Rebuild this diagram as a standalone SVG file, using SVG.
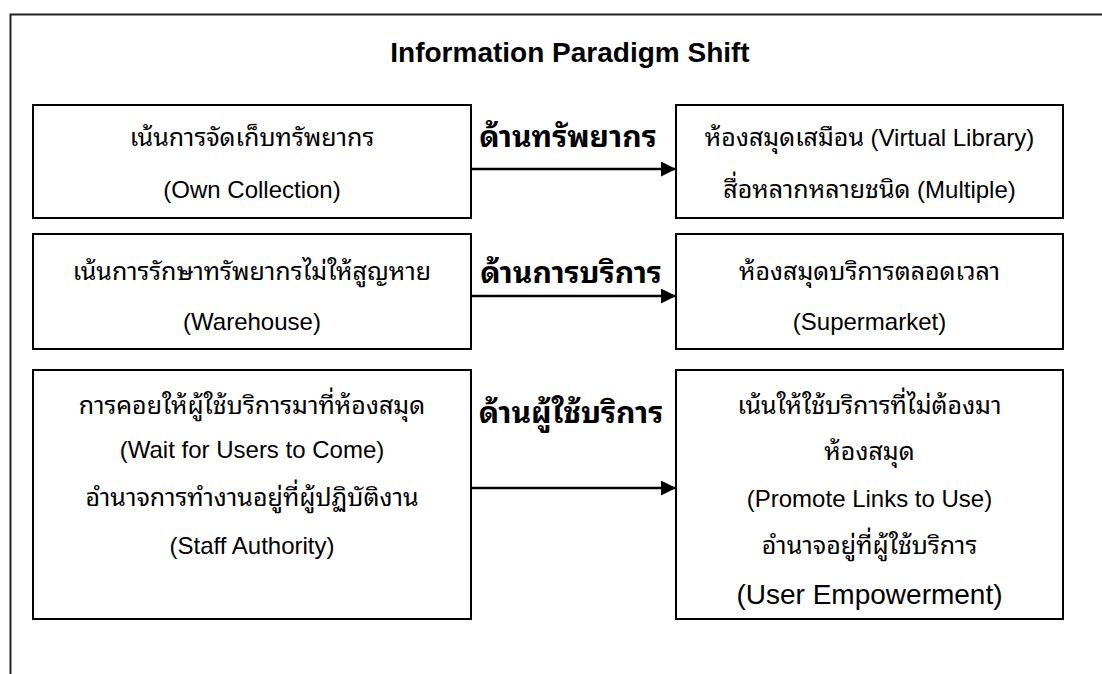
<svg xmlns="http://www.w3.org/2000/svg" width="1102" height="674" viewBox="0 0 1102 674">
<style>
.box{fill:#fff;stroke:#000;stroke-width:2}
.t{font-family:"Liberation Sans","Noto Sans Thai","Noto Sans",sans-serif;font-size:24px;fill:#000;text-anchor:middle}
.th{font-family:"Noto Sans Thai Looped","Noto Sans Thai","Liberation Sans","Noto Sans",sans-serif;font-size:25px;fill:#000;text-anchor:middle}
.en{font-family:"Liberation Sans",sans-serif;font-size:24px}
.lbl{font-family:"Noto Sans Thai Looped","Noto Sans Thai","Liberation Sans",sans-serif;font-size:30px;font-weight:bold;fill:#000;text-anchor:middle}
.title{font-family:"Liberation Sans",Arial,sans-serif;font-size:28px;font-weight:bold;fill:#000;text-anchor:middle}
.conn{stroke:#000;stroke-width:2.5;fill:none}
</style>
<defs>
<marker id="ah" viewBox="0 0 10 10" refX="10" refY="5" markerWidth="6" markerHeight="6" markerUnits="strokeWidth" orient="auto">
<path d="M0,0 L10,5 L0,10 Z" fill="#000"/>
</marker>
</defs>
<rect width="1102" height="674" fill="#fff"/>
<path d="M1102,14.5 H10.5 V674" fill="none" stroke="#222" stroke-width="2"/>
<text class="title" x="570" y="62">Information Paradigm Shift</text>

<g id="left1">
<rect class="box" x="33" y="105" width="438" height="113"/>
<text class="th" x="252" y="146">เน้นการจัดเก็บทรัพยากร</text>
<text class="t" x="252" y="198">(Own Collection)</text>
</g>
<g id="left2">
<rect class="box" x="33" y="234" width="438" height="115"/>
<text class="th" x="252" y="280">เน้นการรักษาทรัพยากรไม่ให้สูญหาย</text>
<text class="t" x="252" y="330">(Warehouse)</text>
</g>
<g id="left3">
<rect class="box" x="33" y="370" width="438" height="249"/>
<text class="th" x="252" y="414">การคอยให้ผู้ใช้บริการมาที่ห้องสมุด</text>
<text class="t" x="252" y="458">(Wait for Users to Come)</text>
<text class="th" x="252" y="506">อำนาจการทำงานอยู่ที่ผู้ปฏิบัติงาน</text>
<text class="t" x="252" y="554">(Staff Authority)</text>
</g>
<g id="right1">
<rect class="box" x="676" y="105" width="387" height="113"/>
<text class="th" x="869.5" y="146">ห้องสมุดเสมือน <tspan class="en">(Virtual Library)</tspan></text>
<text class="th" x="869.5" y="198">สื่อหลากหลายชนิด <tspan class="en">(Multiple)</tspan></text>
</g>
<g id="right2">
<rect class="box" x="676" y="234" width="387" height="115"/>
<text class="th" x="869.5" y="280">ห้องสมุดบริการตลอดเวลา</text>
<text class="t" x="869.5" y="330">(Supermarket)</text>
</g>
<g id="right3">
<rect class="box" x="676" y="370" width="387" height="249"/>
<text class="th" x="869.5" y="414">เน้นให้ใช้บริการที่ไม่ต้องมา</text>
<text class="th" x="869.5" y="460">ห้องสมุด</text>
<text class="t" x="869.5" y="507">(Promote Links to Use)</text>
<text class="th" x="869.5" y="554">อำนาจอยู่ที่ผู้ใช้บริการ</text>
<text class="t" x="869.5" y="604" style="font-size:28px">(User Empowerment)</text>
</g>

<g id="connectors">
<line class="conn" x1="471" y1="169" x2="676" y2="169" marker-end="url(#ah)"/>
<line class="conn" x1="471" y1="296" x2="676" y2="296" marker-end="url(#ah)"/>
<line class="conn" x1="471" y1="488" x2="676" y2="488" marker-end="url(#ah)"/>
<text class="lbl" x="568" y="147">ด้านทรัพยากร</text>
<text class="lbl" x="571" y="283">ด้านการบริการ</text>
<text class="lbl" x="571" y="423">ด้านผู้ใช้บริการ</text>
</g>
</svg>
